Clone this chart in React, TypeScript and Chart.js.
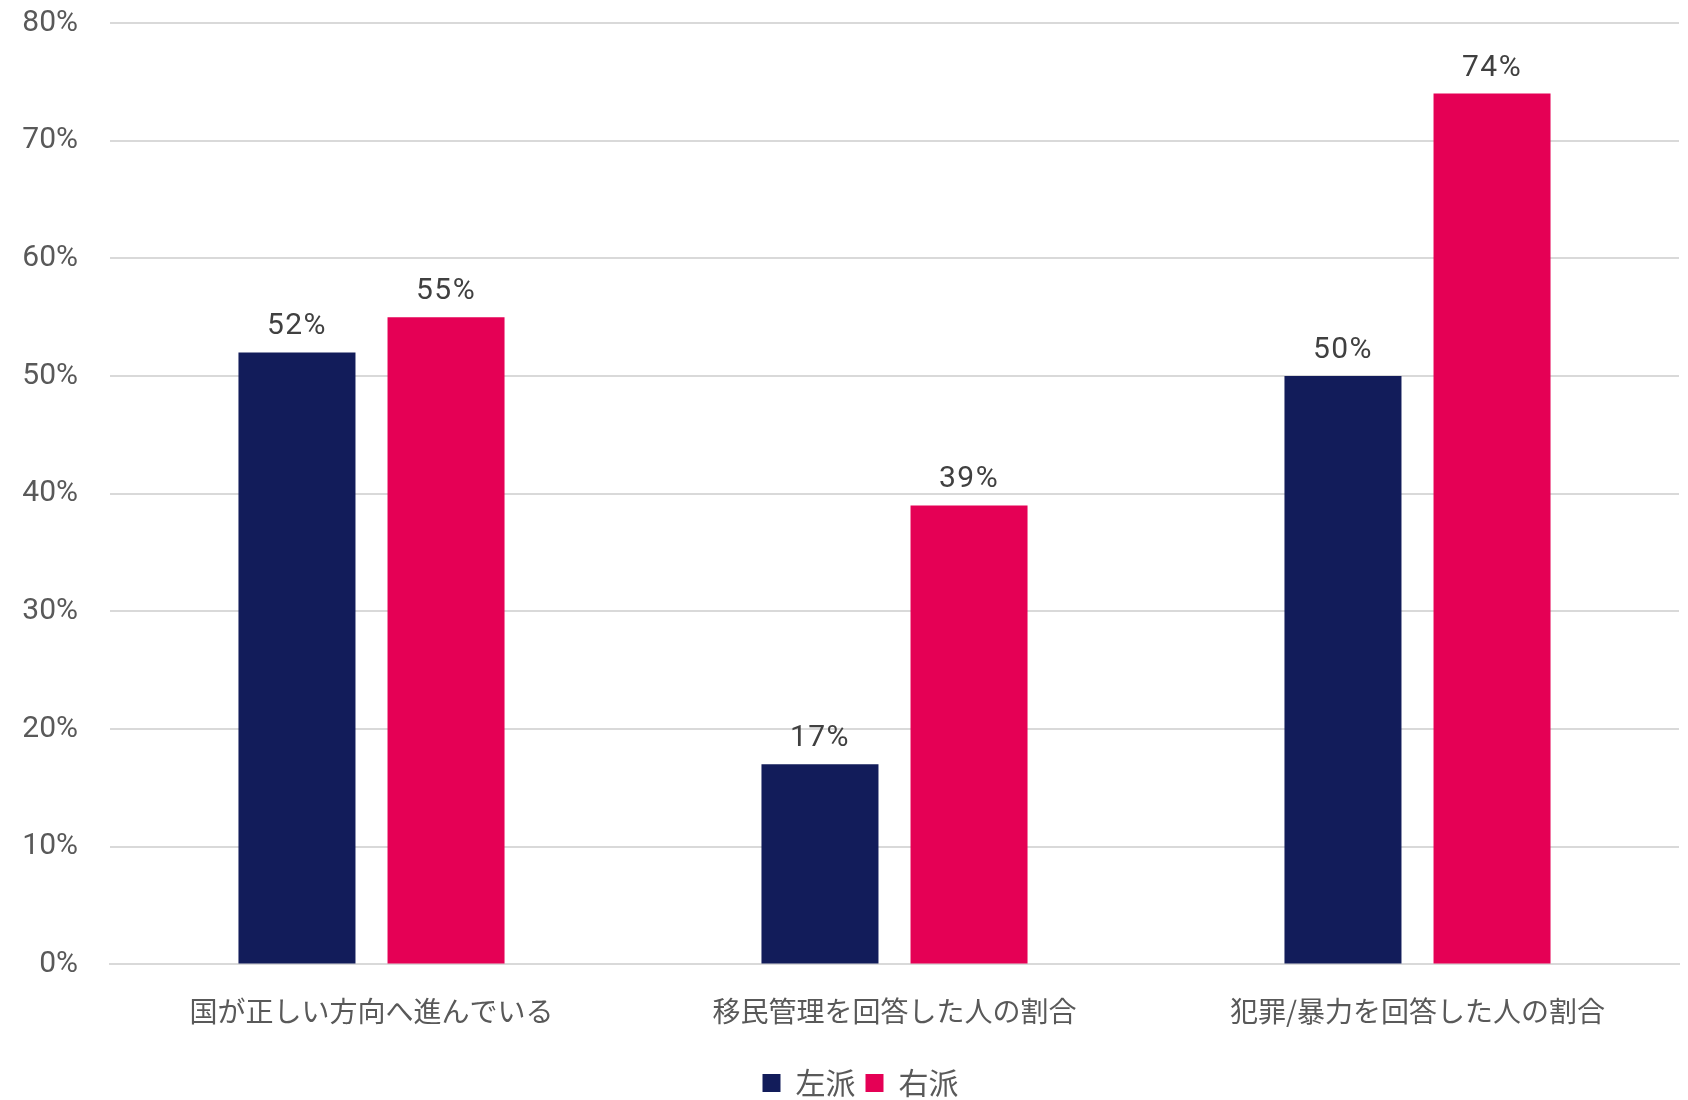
import React, { useEffect, useRef } from "react";
import { Chart, registerables } from "chart.js";

Chart.register(...registerables);

const categories = ["国が正しい方向へ進んでいる", "移民管理を回答した人の割合", "犯罪/暴力を回答した人の割合"];
const leftValues = [52, 17, 50];
const rightValues = [55, 39, 74];
const seriesNames = ["左派", "右派"];
const seriesColors = ["#121c5a", "#e50055"];
const yTicks = [0, 10, 20, 30, 40, 50, 60, 70, 80];

const valueLabels = {
  id: "valueLabels",
  afterDatasetsDraw(chart: any) {
    const ctx = chart.ctx;
    ctx.save();
    ctx.font = "30px Roboto";
    (ctx as any).letterSpacing = "1.5px";
    ctx.fillStyle = "#404040";
    ctx.textAlign = "center";
    ctx.textBaseline = "alphabetic";
    chart.data.datasets.forEach((ds: any, i: number) => {
      const meta = chart.getDatasetMeta(i);
      meta.data.forEach((bar: any, j: number) => {
        ctx.fillText(ds.data[j] + "%", bar.x, bar.y - 18);
      });
    });
    ctx.restore();
  },
};

const legendShift = {
  id: "legendShift",
  afterLayout(chart: any) {
    const lg = chart.legend;
    if (lg) {
      lg.left -= 34;
      lg.right -= 34;
    }
  },
};

const SHIFT = 27;

export default function App() {
  const ref = useRef<HTMLCanvasElement | null>(null);
  useEffect(() => {
    document.body.style.margin = "0";
    const chart = new Chart(ref.current as HTMLCanvasElement, {
      type: "bar",
      data: {
        labels: categories,
        datasets: [
          { label: seriesNames[0], data: leftValues, backgroundColor: seriesColors[0] },
          { label: seriesNames[1], data: rightValues, backgroundColor: seriesColors[1] },
        ],
      },
      options: {
        responsive: false,
        animation: false,
        devicePixelRatio: 1,
        layout: { padding: { top: -21, right: 9, bottom: -8, left: 0 } },
        datasets: { bar: { categoryPercentage: 0.57, barPercentage: 0.785 } } as any,
        scales: {
          x: {
            grid: { display: false, drawTicks: false },
            border: { display: true, color: "#d9d9d9", width: 2 },
            ticks: {
              font: { family: "'Noto Sans CJK JP'", size: 28 },
              color: "#595959",
              padding: 30,
              maxRotation: 0,
            },
          },
          y: {
            min: 0,
            max: 80,
            afterBuildTicks: (s: any) => {
              s.ticks = yTicks.map((v) => ({ value: v }));
            },
            afterFit: (s: any) => {
              s.width = 110;
            },
            grid: { color: "#d9d9d9", lineWidth: 2, drawTicks: false },
            border: { display: false },
            ticks: {
              font: { family: "Roboto", size: 30 },
              color: "#595959",
              padding: 32,
              callback: (v: any) => v + "%",
            },
          },
        },
        plugins: {
          legend: {
            position: "bottom",
            fullSize: false,
            labels: {
              font: { family: "'Noto Sans CJK JP'", size: 30 },
              color: "#595959",
              boxWidth: 18,
              boxHeight: 18,
              padding: 10,
            },
          },
          tooltip: { enabled: false },
        },
      },
      plugins: [valueLabels, legendShift],
    });
    return () => chart.destroy();
  }, []);
  return (
    <div style={{ position: "absolute", left: 0, top: 0, width: 1688, height: 1100, overflow: "hidden", background: "#fff" }}>
      <canvas
        ref={ref}
        width={1688}
        height={1100 + SHIFT}
        style={{ position: "absolute", left: 0, top: -SHIFT, width: 1688, height: 1100 + SHIFT }}
      />
    </div>
  );
}
